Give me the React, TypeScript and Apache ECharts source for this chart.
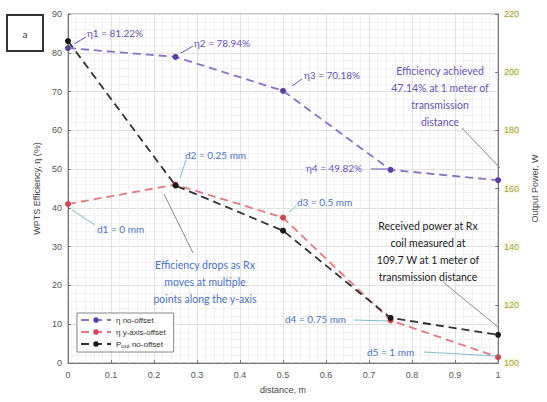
import React, { useEffect, useRef } from "react";
import * as echarts from "echarts";

// Measured transfer data, x = Tx–Rx distance in metres
const distance = [0, 0.25, 0.5, 0.75, 1];
const etaNoOffset = [81.22, 78.94, 70.18, 49.82, 47.14];
const etaYOffset = [41, 46, 37.5, 11, 1.5];
const poutNoOffset = [210.7, 161, 145.5, 115.5, 109.7];

const seriesNames = ["η no-offset", "η y-axis-offset", "Pout no-offset"];
const seriesColors = ["#5b3fa3", "#d2444f", "#1a1a1a"];
const lineColors = ["#8a72c4", "#e07a80", "#333333"];

const leftTicks = { min: 0, max: 90, interval: 10 };
const rightTicks = { min: 100, max: 220, interval: 20 };

const FONT = "Lato, 'Open Sans', sans-serif";
const AXIS_FONT = "'Liberation Sans', Arial, sans-serif";
const PURPLE_TXT = "#6a52b4";
const BLUE_TXT = "#4a74c4";
const LEADER_TEAL = "#7cc0cc";
const LEADER_GRAY = "#8a8a8a";

const pairs = (ys: number[]) => distance.map((x, i) => [x, ys[i]]);

function label(text: string, x: number, y: number, color: string, size = 10, align = "left") {
  return {
    type: "text",
    x,
    y,
    style: {
      text,
      fill: color,
      font: `${size}px ${FONT}`,
      align,
      verticalAlign: "middle",
      lineHeight: 17,
    },
    z: 20,
  };
}

function block(text: string, cx: number, top: number, color: string, size = 10.5, weight = "normal") {
  return {
    type: "text",
    x: cx,
    y: top,
    style: {
      text,
      fill: color,
      font: `${weight} ${size}px ${FONT}`,
      align: "center",
      verticalAlign: "top",
      lineHeight: 17,
    },
    z: 20,
  };
}

function leader(x1: number, y1: number, x2: number, y2: number, color: string) {
  return {
    type: "line",
    shape: { x1, y1, x2, y2 },
    style: { stroke: color, lineWidth: 1 },
    z: 19,
  };
}

export default function App() {
  const ref = useRef<HTMLDivElement>(null);

  useEffect(() => {
    if (!ref.current) return;
    const chart = echarts.init(ref.current, undefined, { renderer: "svg" });

    const makeSeries = (i: number, data: number[][], yAxisIndex: number) => ({
      name: seriesNames[i],
      type: "line",
      yAxisIndex,
      data,
      symbol: "circle",
      symbolSize: 6,
      itemStyle: { color: seriesColors[i] },
      lineStyle: { color: lineColors[i], width: 1.8, type: [8, 5] },
      z: 5 + i,
    });

    chart.setOption({
      animation: false,
      backgroundColor: "#ffffff",
      grid: {
        left: 68,
        right: 41,
        top: 14,
        bottom: 39,
        show: true,
        borderColor: "#8c8c8c",
        borderWidth: 1,
        backgroundColor: "transparent",
      },
      legend: {
        data: seriesNames,
        orient: "vertical",
        left: 77,
        top: 313,
        itemWidth: 30,
        itemHeight: 7,
        itemGap: 4,
        padding: [3, 8, 3, 3],
        borderColor: "#888888",
        borderWidth: 1,
        backgroundColor: "#ffffff",
        textStyle: {
          fontFamily: AXIS_FONT,
          fontSize: 8,
          color: "#333",
          rich: {
            sub: { fontSize: 6, verticalAlign: "bottom", padding: [4, 0, 0, 0], fontFamily: AXIS_FONT },
          },
        },
        formatter: (name: string) =>
          name.startsWith("Pout") ? "P{sub|out} no-offset" : name,
      },
      xAxis: {
        type: "value",
        min: 0,
        max: 1,
        interval: 0.1,
        name: "distance, m",
        nameLocation: "middle",
        nameGap: 22,
        nameTextStyle: { fontFamily: AXIS_FONT, fontSize: 9, color: "#444" },
        axisLine: { lineStyle: { color: "#7a7a7a" } },
        axisTick: { inside: true, length: 3, lineStyle: { color: "#7a7a7a" } },
        axisLabel: {
          fontFamily: AXIS_FONT,
          fontSize: 9,
          color: "#555",
          margin: 7,
          formatter: (v: number) => String(Number(v.toFixed(1))),
        },
        splitLine: { show: true, lineStyle: { color: "#e0e0e0" } },
        minorTick: { show: false, splitNumber: 5 },
        minorSplitLine: { show: true, lineStyle: { color: "#f1f1f1" } },
      },
      yAxis: [
        {
          type: "value",
          ...leftTicks,
          name: "WPTS Efficiency, η (%)",
          nameLocation: "middle",
          nameGap: 22,
          nameRotate: 90,
          nameTextStyle: { fontFamily: AXIS_FONT, fontSize: 9, color: "#444" },
          axisLine: { show: true, lineStyle: { color: "#7a7a7a" } },
          axisTick: { show: true, inside: true, length: 3, lineStyle: { color: "#7a7a7a" } },
          axisLabel: { fontFamily: AXIS_FONT, fontSize: 9, color: "#555", margin: 6 },
          splitLine: { show: true, lineStyle: { color: "#e0e0e0" } },
          minorTick: { show: false, splitNumber: 5 },
          minorSplitLine: { show: true, lineStyle: { color: "#f1f1f1" } },
        },
        {
          type: "value",
          ...rightTicks,
          position: "right",
          name: "Output Power, W",
          nameLocation: "middle",
          nameGap: 27,
          nameRotate: 90,
          nameTextStyle: { fontFamily: AXIS_FONT, fontSize: 9, color: "#444" },
          axisLine: { show: true, lineStyle: { color: "#7a7a7a" } },
          axisTick: { show: true, inside: true, length: 3, lineStyle: { color: "#7a7a7a" } },
          axisLabel: {
            fontFamily: AXIS_FONT,
            fontSize: 9,
            color: "#a3a350",
            margin: 6,
            backgroundColor: "#f7f7dc",
          },
          splitLine: { show: false },
        },
      ],
      series: [
        makeSeries(0, pairs(etaNoOffset), 0),
        makeSeries(1, pairs(etaYOffset), 0),
        makeSeries(2, pairs(poutNoOffset), 1),
      ],
      graphic: [
        // panel tag
        {
          type: "rect",
          shape: { x: 7, y: 15, width: 36, height: 36 },
          style: { fill: "#ffffff", stroke: "#333333", lineWidth: 2 },
          z: 20,
        },
        label("a", 25, 34, "#333", 10, "center"),

        // efficiency, no offset
        leader(74, 44, 86, 37, PURPLE_TXT),
        label("η1 = 81.22%", 87, 33, PURPLE_TXT),
        leader(181, 53, 193, 46, PURPLE_TXT),
        label("η2 = 78.94%", 194, 43, PURPLE_TXT),
        leader(292, 86, 302, 79, PURPLE_TXT),
        label("η3 = 70.18%", 304, 75, PURPLE_TXT),
        leader(371, 169, 389, 169, PURPLE_TXT),
        label("η4 = 49.82%", 306, 168, PURPLE_TXT),
        leader(462, 128, 500, 168, LEADER_GRAY),
        block("Efficiency achieved\n47.14% at 1 meter of\ntransmission\ndistance", 440, 62, PURPLE_TXT),

        // efficiency with y-axis offset
        leader(72, 210, 95, 225, LEADER_TEAL),
        label("d1 = 0 mm", 97, 229, BLUE_TXT),
        leader(186, 160, 180, 178, LEADER_TEAL),
        label("d2 = 0.25 mm", 185, 155, BLUE_TXT),
        leader(296, 206, 289, 212, LEADER_TEAL),
        label("d3 = 0.5 mm", 297, 202, BLUE_TXT),
        leader(354, 320, 388, 321, LEADER_TEAL),
        label("d4 = 0.75 mm", 285, 319, BLUE_TXT),
        leader(424, 352, 497, 356, LEADER_TEAL),
        label("d5 = 1 mm", 367, 352, BLUE_TXT),
        leader(193, 253, 164, 194, LEADER_GRAY),
        block("Efficiency drops as Rx\nmoves at multiple\npoints along the y-axis", 205, 256, BLUE_TXT),

        // output power
        leader(443, 282, 498, 327, LEADER_GRAY),
        block("Received power at Rx\ncoil measured at\n109.7 W at 1 meter of\ntransmission distance", 428, 217, "#1a1a1a"),
      ],
    });

    return () => chart.dispose();
  }, []);

  return (
    <div
      ref={ref}
      style={{ position: "absolute", left: 0, top: 0, width: 547, height: 402, background: "#fff" }}
    />
  );
}
